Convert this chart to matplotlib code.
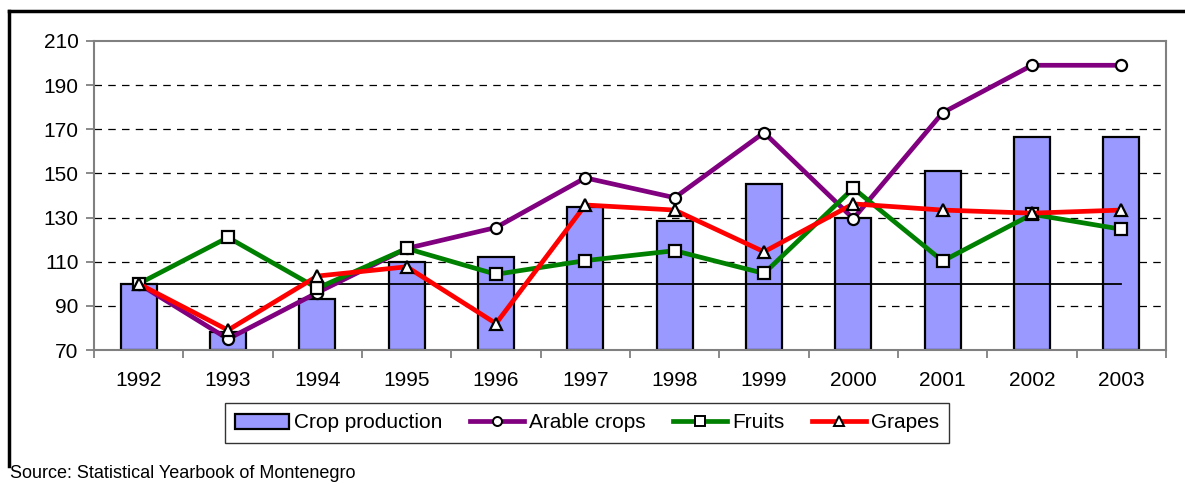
import matplotlib
matplotlib.use("Agg")
import matplotlib.pyplot as plt
from matplotlib.lines import Line2D
from matplotlib.patches import Patch

plt.rcParams['font.family'] = ['Liberation Sans', 'DejaVu Sans']

years = ['1992', '1993', '1994', '1995', '1996', '1997', '1998', '1999',
         '2000', '2001', '2002', '2003']
crop_production = [100, 78, 93, 110, 112, 135, 128.5, 145, 130, 151, 166.5, 166.5]
arable_crops = [100, 75, 96, 116, 125.5, 148, 139, 168.5, 129.5, 177.5, 199, 199]
fruits = [100, 121, 98, 116, 104.3, 110.5, 115, 104.7, 143.3, 110.3, 131.5, 124.7]
grapes = [100, 79, 103.5, 107.7, 82, 135.7, 133.4, 114.5, 136.2, 133.4, 132, 133.4]
baseline = 100
y_ticks = [70, 90, 110, 130, 150, 170, 190, 210]

W, H = 1185, 484
FS = 15
fig = plt.figure(figsize=(W / 100, H / 100), dpi=100)
ax = fig.add_axes([94 / W, 1 - 350 / H, (1166 - 94) / W, (350 - 41) / H])

x = list(range(len(years)))
ax.bar(x, [v - 70 for v in crop_production], bottom=70, width=0.40,
       color='#9999FF', edgecolor='black', linewidth=1.6, zorder=2)
ax.plot([x[0], x[-1]], [baseline, baseline], color='black', lw=1.3, zorder=3)

mk = dict(markersize=8, markerfacecolor='white', markeredgecolor='black',
          markeredgewidth=1.6, lw=3.4, zorder=4)
ax.plot(x, arable_crops, color='#800080', marker='o', **mk)
ax.plot(x, fruits, color='#008000', marker='s', **mk)
ax.plot(x, grapes, color='#FF0000', marker='^', **mk)

ax.set_xlim(-0.5, len(years) - 0.5)
ax.set_ylim(70, 210)
ax.set_yticks(y_ticks)
ax.set_yticklabels([str(t) for t in y_ticks], fontsize=FS)
ax.set_xticks(x)
ax.set_xticklabels(years, fontsize=FS)
ax.set_xticks([i - 0.5 for i in range(len(years) + 1)], minor=True)
ax.tick_params(axis='x', which='major', length=0, pad=15)
ax.tick_params(axis='x', which='minor', length=6, color='#808080', width=1.3, direction='out')
ax.tick_params(axis='y', which='major', length=6, color='#808080', width=1.3, direction='out', pad=5)

for t in y_ticks[1:-1]:
    ax.axhline(t, color='black', lw=0.9, ls=(0, (6, 5)), zorder=1)

for s in ax.spines.values():
    s.set_color('#808080')
    s.set_linewidth(1.5)

handles = [
    Patch(facecolor='#9999FF', edgecolor='black', linewidth=1.6, label='Crop production'),
    Line2D([], [], color='#800080', marker='o', markersize=6.5, markerfacecolor='white',
           markeredgecolor='black', markeredgewidth=1.4, lw=3.4, label='Arable crops'),
    Line2D([], [], color='#008000', marker='s', markersize=6.5, markerfacecolor='white',
           markeredgecolor='black', markeredgewidth=1.4, lw=3.4, label='Fruits'),
    Line2D([], [], color='#FF0000', marker='^', markersize=6.5, markerfacecolor='white',
           markeredgecolor='black', markeredgewidth=1.4, lw=3.4, label='Grapes'),
]
leg = fig.legend(handles=handles, loc='center', ncol=4,
                 bbox_to_anchor=(587 / W, 1 - 423 / H), fontsize=FS,
                 frameon=True, fancybox=False, edgecolor='black',
                 handlelength=2.6, handletextpad=0.25, columnspacing=1.3,
                 borderpad=0.5, numpoints=1)
leg.get_frame().set_linewidth(1.0)

fig.text(10 / W, 1 - 474 / H, 'Source: Statistical Yearbook of Montenegro',
         fontsize=13, ha='left', va='center')

fig.add_artist(Line2D([9 / W, 1.0], [1 - 11 / H, 1 - 11 / H], color='black', lw=2.5,
                      transform=fig.transFigure))
fig.add_artist(Line2D([9 / W, 9 / W], [1 - 11 / H, 1 - 466 / H], color='black', lw=2.5,
                      transform=fig.transFigure))

fig.savefig('out.png', dpi=100)
